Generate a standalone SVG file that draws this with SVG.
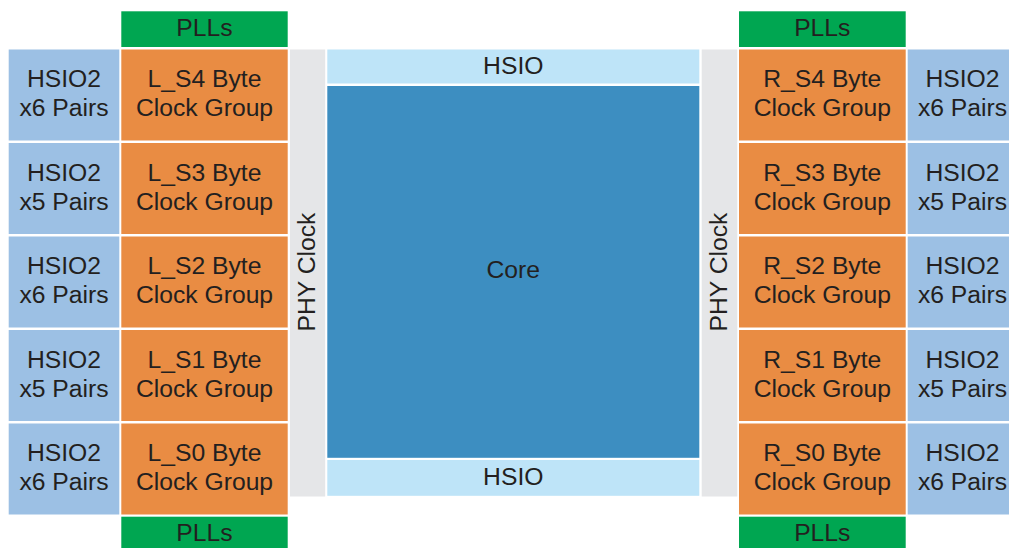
<svg xmlns="http://www.w3.org/2000/svg" width="1009" height="548" viewBox="0 0 1009 548">
  <style>
    text { font-family: "Liberation Sans", Arial, sans-serif; font-size: 24.7px; fill: #231F20; text-anchor: middle; }
    .pll { fill: #00A651; }
    .grp { fill: #E98C43; }
    .hsio2 { fill: #9CC0E4; }
    .phy { fill: #E5E6E8; }
    .hsio { fill: #BEE4F8; }
    .core { fill: #3D8EC1; }
  </style>
  <rect width="1009" height="548" fill="#FFFFFF"/>

  <!-- left side -->
  <g id="pll-left-top"><rect class="pll" x="121.3" y="11.3" width="166.4" height="35.7"/><text x="204.5" y="35.7">PLLs</text></g>
  <g id="hsio2-left-4"><rect class="hsio2" x="8.7" y="49.5" width="110.6" height="91"/><text x="64" y="87.3">HSIO2</text><text x="64" y="116">x6 Pairs</text></g>
  <g id="lS4"><rect class="grp" x="121.3" y="49.5" width="166.4" height="91"/><text x="204.5" y="87.3">L_S4 Byte</text><text x="204.5" y="116">Clock Group</text></g>
  <g id="hsio2-left-3"><rect class="hsio2" x="8.7" y="143" width="110.6" height="91"/><text x="64" y="180.8">HSIO2</text><text x="64" y="209.5">x5 Pairs</text></g>
  <g id="lS3"><rect class="grp" x="121.3" y="143" width="166.4" height="91"/><text x="204.5" y="180.8">L_S3 Byte</text><text x="204.5" y="209.5">Clock Group</text></g>
  <g id="hsio2-left-2"><rect class="hsio2" x="8.7" y="236.5" width="110.6" height="91"/><text x="64" y="274.3">HSIO2</text><text x="64" y="303">x6 Pairs</text></g>
  <g id="lS2"><rect class="grp" x="121.3" y="236.5" width="166.4" height="91"/><text x="204.5" y="274.3">L_S2 Byte</text><text x="204.5" y="303">Clock Group</text></g>
  <g id="hsio2-left-1"><rect class="hsio2" x="8.7" y="330" width="110.6" height="91"/><text x="64" y="367.8">HSIO2</text><text x="64" y="396.5">x5 Pairs</text></g>
  <g id="lS1"><rect class="grp" x="121.3" y="330" width="166.4" height="91"/><text x="204.5" y="367.8">L_S1 Byte</text><text x="204.5" y="396.5">Clock Group</text></g>
  <g id="hsio2-left-0"><rect class="hsio2" x="8.7" y="423.5" width="110.6" height="91"/><text x="64" y="461.3">HSIO2</text><text x="64" y="490">x6 Pairs</text></g>
  <g id="lS0"><rect class="grp" x="121.3" y="423.5" width="166.4" height="91"/><text x="204.5" y="461.3">L_S0 Byte</text><text x="204.5" y="490">Clock Group</text></g>
  <g id="pll-left-bottom"><rect class="pll" x="121.3" y="516.7" width="166.4" height="35"/><text x="204.5" y="540.5">PLLs</text></g>
  <g id="phy-left"><rect class="phy" x="290" y="49.5" width="35.2" height="447"/><text transform="translate(314.7 272) rotate(-90)">PHY Clock</text></g>

  <!-- centre -->
  <g id="hsio-top"><rect class="hsio" x="327.3" y="49.5" width="372" height="34"/><text x="513.3" y="74" font-size="24">HSIO</text></g>
  <g id="core"><rect class="core" x="327.3" y="86" width="372" height="371.8"/><text x="513.3" y="278.3">Core</text></g>
  <g id="hsio-bottom"><rect class="hsio" x="327.3" y="460" width="372" height="35.8"/><text x="513.3" y="485" font-size="24">HSIO</text></g>

  <!-- right side -->
  <g id="phy-right"><rect class="phy" x="701.7" y="49.5" width="35.6" height="447"/><text transform="translate(726.8 272) rotate(-90)">PHY Clock</text></g>
  <g id="pll-right-top"><rect class="pll" x="739" y="11.3" width="166.7" height="35.7"/><text x="822.3" y="35.7">PLLs</text></g>
  <g id="rS4"><rect class="grp" x="739" y="49.5" width="166.7" height="91"/><text x="822.3" y="87.3">R_S4 Byte</text><text x="822.3" y="116">Clock Group</text></g>
  <g id="hsio2-right-4"><rect class="hsio2" x="907.7" y="49.5" width="110.6" height="91"/><text x="962.5" y="87.3">HSIO2</text><text x="962.5" y="116">x6 Pairs</text></g>
  <g id="rS3"><rect class="grp" x="739" y="143" width="166.7" height="91"/><text x="822.3" y="180.8">R_S3 Byte</text><text x="822.3" y="209.5">Clock Group</text></g>
  <g id="hsio2-right-3"><rect class="hsio2" x="907.7" y="143" width="110.6" height="91"/><text x="962.5" y="180.8">HSIO2</text><text x="962.5" y="209.5">x5 Pairs</text></g>
  <g id="rS2"><rect class="grp" x="739" y="236.5" width="166.7" height="91"/><text x="822.3" y="274.3">R_S2 Byte</text><text x="822.3" y="303">Clock Group</text></g>
  <g id="hsio2-right-2"><rect class="hsio2" x="907.7" y="236.5" width="110.6" height="91"/><text x="962.5" y="274.3">HSIO2</text><text x="962.5" y="303">x6 Pairs</text></g>
  <g id="rS1"><rect class="grp" x="739" y="330" width="166.7" height="91"/><text x="822.3" y="367.8">R_S1 Byte</text><text x="822.3" y="396.5">Clock Group</text></g>
  <g id="hsio2-right-1"><rect class="hsio2" x="907.7" y="330" width="110.6" height="91"/><text x="962.5" y="367.8">HSIO2</text><text x="962.5" y="396.5">x5 Pairs</text></g>
  <g id="rS0"><rect class="grp" x="739" y="423.5" width="166.7" height="91"/><text x="822.3" y="461.3">R_S0 Byte</text><text x="822.3" y="490">Clock Group</text></g>
  <g id="hsio2-right-0"><rect class="hsio2" x="907.7" y="423.5" width="110.6" height="91"/><text x="962.5" y="461.3">HSIO2</text><text x="962.5" y="490">x6 Pairs</text></g>
  <g id="pll-right-bottom"><rect class="pll" x="739" y="516.7" width="166.7" height="35"/><text x="822.3" y="540.5">PLLs</text></g>

  <!-- no connectors in this block layout -->
  <g id="connectors"/>
</svg>
